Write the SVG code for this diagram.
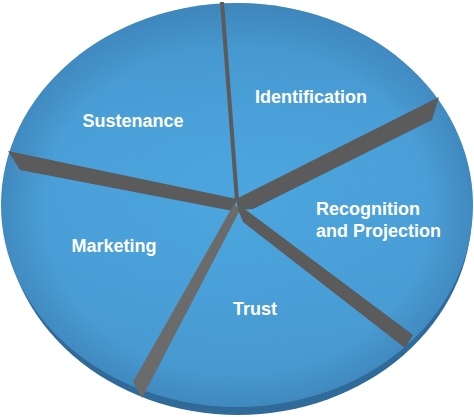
<svg xmlns="http://www.w3.org/2000/svg" width="474" height="417" viewBox="0 0 474 417">
<defs>
<radialGradient id="face" cx="237" cy="210" r="240" gradientUnits="userSpaceOnUse" gradientTransform="translate(0,210) scale(1,0.86) translate(0,-210)">
<stop offset="0" stop-color="#4CA6DF"/>
<stop offset="0.8" stop-color="#4A9FD8"/>
<stop offset="0.9" stop-color="#4592C9"/>
<stop offset="1" stop-color="#3F87BD"/>
</radialGradient>
<linearGradient id="top" x1="0" y1="0" x2="0" y2="1">
<stop offset="0" stop-color="#3D86BC" stop-opacity="0.6"/>
<stop offset="0.4" stop-color="#4A9FD8" stop-opacity="0"/>
<stop offset="1" stop-color="#3D84B8" stop-opacity="0.35"/>
</linearGradient>
<style>
.wall{fill:#5B5B5B}
.wallL{fill:#6B6B6B}
.lbl{font-family:"Liberation Sans",Arial,sans-serif;font-weight:bold;font-size:18px;fill:#FFFFFF}
</style>
</defs>
<g id="pie">
<ellipse cx="238" cy="211" rx="234" ry="204" fill="#2F6A98"/>
<ellipse cx="237" cy="205" rx="236" ry="202" fill="url(#face)"/>
<ellipse cx="237" cy="205" rx="236" ry="202" fill="url(#top)"/>
</g>
<g id="connectors">
<polygon class="wall" points="220,2 224,2 239,200 235,201"/>
<polygon class="wall" points="236,199 439,97 432,120 253,209 238,210"/>
<polygon class="wall" points="8,151 237,199 233,211 20,170"/>
<polygon class="wallL" points="234,204 240,210 142,398 133,382"/>
<polygon class="wall" points="238,204 413,335 405,348 243,222 239,212"/>
</g>
<g id="identification"><text class="lbl" x="311" y="103" text-anchor="middle">Identification</text></g>
<g id="sustenance"><text class="lbl" x="133" y="127" text-anchor="middle">Sustenance</text></g>
<g id="marketing"><text class="lbl" x="114" y="252" text-anchor="middle">Marketing</text></g>
<g id="recognition"><text class="lbl" x="316" y="215">Recognition</text><text class="lbl" x="316" y="237">and Projection</text></g>
<g id="trust"><text class="lbl" x="255" y="315" text-anchor="middle">Trust</text></g>
</svg>
